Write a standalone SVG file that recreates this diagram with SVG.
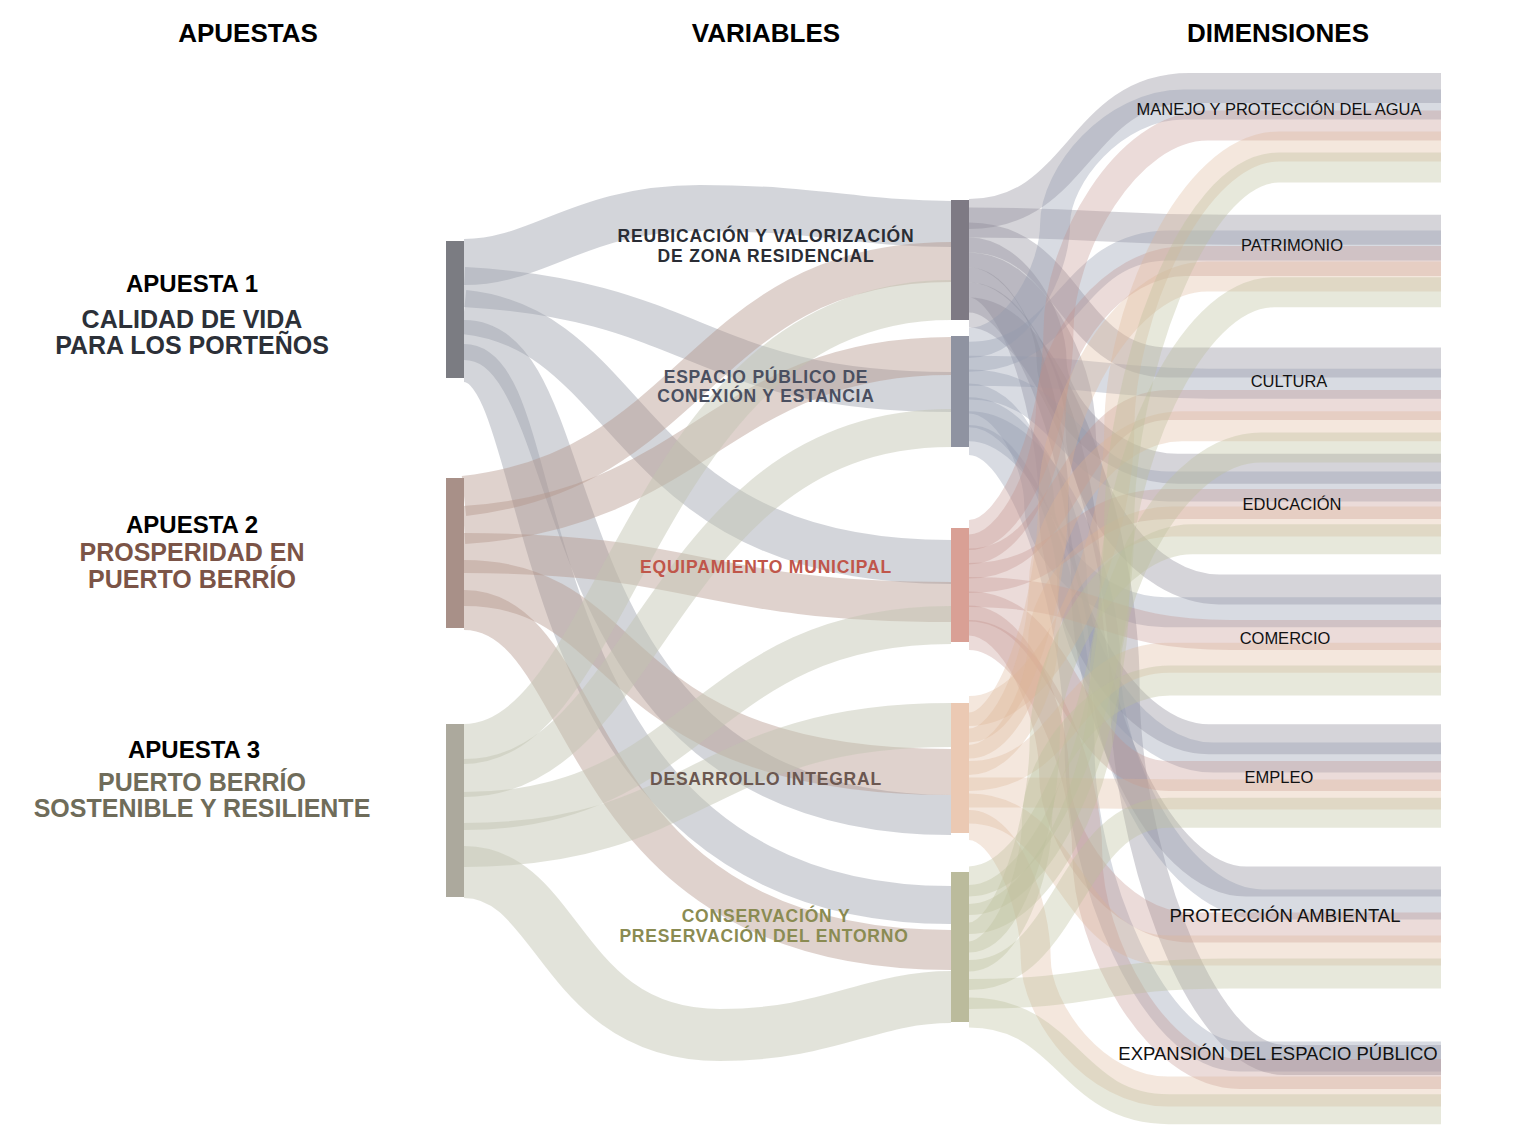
<svg xmlns="http://www.w3.org/2000/svg" width="1532" height="1137" viewBox="0 0 1532 1137">
<defs>
<style>
.f{fill:none;stroke-linecap:butt}
.a1{stroke:#9ea1ac;stroke-opacity:.45}
.a2{stroke:#b39488;stroke-opacity:.42}
.a3{stroke:#c3c5b2;stroke-opacity:.48}
.v0{stroke:#8b8797;stroke-opacity:.36;stroke-width:30}
.v1{stroke:#939bb0;stroke-opacity:.36;stroke-width:30}
.v2{stroke:#c08f8a;stroke-opacity:.32;stroke-width:30}
.v3{stroke:#deb596;stroke-opacity:.32;stroke-width:30}
.v4{stroke:#bcbe9b;stroke-opacity:.36;stroke-width:30}
.hd{font-family:"Liberation Sans",Arial,sans-serif;font-weight:bold;font-size:26px;fill:#000;text-anchor:middle}
.ap{font-family:"Liberation Sans",Arial,sans-serif;font-weight:bold;font-size:24px;fill:#000;text-anchor:middle}
.as{font-family:"Liberation Sans",Arial,sans-serif;font-weight:bold;font-size:25px;text-anchor:middle}
.vl{font-family:"Liberation Sans",Arial,sans-serif;font-weight:bold;font-size:17.5px;letter-spacing:0.8px;text-anchor:middle}
.dl{font-family:"Liberation Sans",Arial,sans-serif;font-size:16.5px;fill:#111;text-anchor:middle}
.dL{font-family:"Liberation Sans",Arial,sans-serif;font-size:18.5px;fill:#111;text-anchor:middle}
</style>
</defs>
<rect width="1532" height="1137" fill="#fff"/>

<g id="connectors">
<!-- Apuestas to Variables -->
<path class="f a1" stroke-width="46" d="M464,262 C540,262 580,208 700,208 C820,208 860,224 951,224"/>
<path class="f a1" stroke-width="40" d="M464,287 C700,300 700,392 951,392"/>
<path class="f a1" stroke-width="44" d="M464,312 C640,330 620,562 951,562"/>
<path class="f a1" stroke-width="40" d="M464,340 C600,340 520,815 951,815"/>
<path class="f a1" stroke-width="38" d="M464,363 C560,363 500,905 951,905"/>

<path class="f a2" stroke-width="40" d="M464,496 C700,470 700,262 951,262"/>
<path class="f a2" stroke-width="38" d="M464,525 C700,510 720,356 951,356"/>
<path class="f a2" stroke-width="40" d="M464,553 C700,553 700,602 951,602"/>
<path class="f a2" stroke-width="46" d="M464,583 C640,583 600,772 951,772"/>
<path class="f a2" stroke-width="40" d="M464,610 C600,610 560,950 951,950"/>

<path class="f a3" stroke-width="40" d="M464,744 C620,744 640,300 951,300"/>
<path class="f a3" stroke-width="38" d="M464,778 C650,778 660,428 951,428"/>
<path class="f a3" stroke-width="38" d="M464,811 C700,811 700,625 951,625"/>
<path class="f a3" stroke-width="44" d="M464,845 C700,845 700,725 951,725"/>
<path class="f a3" stroke-width="52" d="M464,872 C560,872 560,1035 720,1035 C830,1035 870,997 951,997"/>

<!-- Variables to Dimensiones -->
<path class="f v0" stroke-width="38" d="M969,214 C1079,214 1079,88 1189,88 L1441,88"/>
<path class="f v0" d="M969,222.5 C1100,222.5 1100,229.8 1230,229.8 L1441,229.8"/>
<path class="f v0" d="M969,237.5 C1069,237.5 1069,362.6 1169,362.6 L1441,362.6"/>
<path class="f v0" d="M969,252.5 C1014.4,252.5 1051.6,317.4 1051.6,360.7 C1051.6,403.9 1108.3,468.8 1177.6,468.8 L1441,468.8"/>
<path class="f v0" d="M969,267.5 C1030.3,267.5 1080.5,364.1 1080.5,428.5 C1080.5,492.8 1142.9,589.4 1219.1,589.4 L1441,589.4"/>
<path class="f v0" d="M969,282.5 C1015.8,282.5 1054.1,419.5 1054.1,510.9 C1054.1,602.2 1123.8,739.2 1208.9,739.2 L1441,739.2"/>
<path class="f v0" stroke-width="36" d="M969,297.5 C1033.6,297.5 1086.4,472.7 1086.4,589.5 C1086.4,706.3 1158.4,881.5 1246.4,881.5 L1441,881.5"/>
<path class="f v0" stroke-width="34" d="M969,312.5 C1054.6,312.5 1124.6,536.8 1124.6,686.3 C1124.6,835.8 1196.6,1060 1284.6,1060 L1441,1060"/>

<path class="f v1" d="M969,342.9 C1016.4,342.9 1055.1,271.4 1055.1,223.7 C1055.1,176 1113,104.5 1183.7,104.5 L1441,104.5"/>
<path class="f v1" d="M969,356.8 C1069,356.8 1069,245.4 1169,245.4 L1441,245.4"/>
<path class="f v1" d="M969,370.7 C1100,370.7 1100,383.8 1230,383.8 L1441,383.8"/>
<path class="f v1" d="M969,384.6 C1069,384.6 1069,486.4 1169,486.4 L1441,486.4"/>
<path class="f v1" stroke-width="34" d="M969,398.4 C1007.6,398.4 1039.2,462.5 1039.2,505.3 C1039.2,548.1 1095.8,612.2 1164.9,612.2 L1441,612.2"/>
<path class="f v1" d="M969,412.3 C1025.8,412.3 1072.2,515.9 1072.2,585 C1072.2,654.1 1135.8,757.6 1213.6,757.6 L1441,757.6"/>
<path class="f v1" d="M969,426.2 C1044.1,426.2 1105.5,569.7 1105.5,665.4 C1105.5,761 1176.3,904.5 1262.9,904.5 L1441,904.5"/>
<path class="f v1" d="M969,440.1 C1029.8,440.1 1079.6,625 1079.6,748.3 C1079.6,871.5 1151.6,1056.4 1239.6,1056.4 L1441,1056.4"/>

<path class="f v2" d="M969,535.1 C1018.2,535.1 1058.5,412.2 1058.5,330.3 C1058.5,248.4 1125.6,125.5 1207.7,125.5 L1441,125.5"/>
<path class="f v2" d="M969,549.4 C1014.2,549.4 1051.1,462.9 1051.1,405.2 C1051.1,347.5 1111.7,261 1185.7,261 L1441,261"/>
<path class="f v2" d="M969,563.6 C1069,563.6 1069,405 1169,405 L1441,405"/>
<path class="f v2" d="M969,577.9 C1069,577.9 1069,504 1169,504 L1441,504"/>
<path class="f v2" d="M969,592.1 C1100,592.1 1100,635 1230,635 L1441,635"/>
<path class="f v2" d="M969,606.4 C1069,606.4 1069,776 1169,776 L1441,776"/>
<path class="f v2" d="M969,620.6 C1015.8,620.6 1054.1,712.7 1054.1,774.1 C1054.1,835.4 1115.7,927.5 1190.9,927.5 L1441,927.5"/>
<path class="f v2" d="M969,634.9 C1034.1,634.9 1087.3,766.6 1087.3,854.5 C1087.3,942.3 1156,1074 1240,1074 L1441,1074"/>

<path class="f v3" d="M969,711.1 C1051.7,711.1 1119.3,541.7 1119.3,428.8 C1119.3,315.9 1191.3,146.5 1279.3,146.5 L1441,146.5"/>
<path class="f v3" d="M969,727.4 C1015.3,727.4 1053.1,592.2 1053.1,502 C1053.1,411.8 1122.4,276.6 1207.2,276.6 L1441,276.6"/>
<path class="f v3" d="M969,743.6 C1010.1,743.6 1043.8,648.4 1043.8,584.9 C1043.8,521.4 1105.9,426.2 1181.9,426.2 L1441,426.2"/>
<path class="f v3" d="M969,759.9 C1009.8,759.9 1043.1,688.4 1043.1,640.8 C1043.1,593.1 1101,521.6 1171.7,521.6 L1441,521.6"/>
<path class="f v3" d="M969,776.1 C1069,776.1 1069,657.8 1169,657.8 L1441,657.8"/>
<path class="f v3" d="M969,792.4 C1100,792.4 1100,794.4 1230,794.4 L1441,794.4"/>
<path class="f v3" d="M969,808.6 C1069,808.6 1069,950.5 1169,950.5 L1441,950.5"/>
<path class="f v3" d="M969,824.9 C1005.7,824.9 1035.7,904.9 1035.7,958.3 C1035.7,1011.6 1095.1,1091.6 1167.7,1091.6 L1441,1091.6"/>

<path class="f v4" d="M969,881.4 C1051.6,881.4 1119.2,667.3 1119.2,524.5 C1119.2,381.7 1191.2,167.5 1279.2,167.5 L1441,167.5"/>
<path class="f v4" d="M969,900.1 C1048.9,900.1 1114.3,717.8 1114.3,596.2 C1114.3,474.6 1186.3,292.2 1274.3,292.2 L1441,292.2"/>
<path class="f v4" d="M969,918.9 C1043.5,918.9 1104.4,777.5 1104.4,683.2 C1104.4,588.9 1174.9,447.4 1261,447.4 L1441,447.4"/>
<path class="f v4" d="M969,937.6 C1010.6,937.6 1044.7,818.1 1044.7,738.4 C1044.7,658.7 1111.2,539.2 1192.5,539.2 L1441,539.2"/>
<path class="f v4" d="M969,956.4 C1006.5,956.4 1037.1,873.7 1037.1,818.5 C1037.1,763.3 1097,680.6 1170.2,680.6 L1441,680.6"/>
<path class="f v4" d="M969,975.1 C1069,975.1 1069,812.8 1169,812.8 L1441,812.8"/>
<path class="f v4" d="M969,993.9 C1100,993.9 1100,973.5 1230,973.5 L1441,973.5"/>
<path class="f v4" d="M969,1012.6 C1069,1012.6 1069,1109.2 1169,1109.2 L1441,1109.2"/>
</g>

<g id="headers">
<text class="hd" x="248" y="42">APUESTAS</text>
<text class="hd" x="766" y="42">VARIABLES</text>
<text class="hd" x="1278" y="42">DIMENSIONES</text>
</g>

<g id="apuesta1">
<rect x="446" y="241" width="18" height="137" fill="#7b7c82"/>
<text class="ap" x="192" y="292">APUESTA 1</text>
<text class="as" x="192" y="328" fill="#2c3038">CALIDAD DE VIDA</text>
<text class="as" x="192" y="354" fill="#2c3038">PARA LOS PORTEÑOS</text>
</g>
<g id="apuesta2">
<rect x="446" y="478" width="18" height="150" fill="#a89088"/>
<text class="ap" x="192" y="533">APUESTA 2</text>
<text class="as" x="192" y="561" fill="#7b5447">PROSPERIDAD EN</text>
<text class="as" x="192" y="588" fill="#7b5447">PUERTO BERRÍO</text>
</g>
<g id="apuesta3">
<rect x="446" y="724" width="18" height="173" fill="#aca99d"/>
<text class="ap" x="194" y="758">APUESTA 3</text>
<text class="as" x="202" y="791" fill="#6f6c5a">PUERTO BERRÍO</text>
<text class="as" x="202" y="817" fill="#6f6c5a">SOSTENIBLE Y RESILIENTE</text>
</g>

<g id="var-reubicacion">
<rect x="951" y="200" width="18" height="120" fill="#7e7a84"/>
<text class="vl" x="766" y="242" fill="#2a2d35">REUBICACIÓN Y VALORIZACIÓN</text>
<text class="vl" x="766" y="262" fill="#2a2d35">DE ZONA RESIDENCIAL</text>
</g>
<g id="var-espacio">
<rect x="951" y="336" width="18" height="111" fill="#8f93a1"/>
<text class="vl" x="766" y="383" fill="#4a4f60">ESPACIO PÚBLICO DE</text>
<text class="vl" x="766" y="402" fill="#4a4f60">CONEXIÓN Y ESTANCIA</text>
</g>
<g id="var-equipamiento">
<rect x="951" y="528" width="18" height="114" fill="#d9a095"/>
<text class="vl" x="766" y="573" fill="#c0564a">EQUIPAMIENTO MUNICIPAL</text>
</g>
<g id="var-desarrollo">
<rect x="951" y="703" width="18" height="130" fill="#ebc9b3"/>
<text class="vl" x="766" y="785" fill="#6b5750">DESARROLLO INTEGRAL</text>
</g>
<g id="var-conservacion">
<rect x="951" y="872" width="18" height="150" fill="#bbbb9c"/>
<text class="vl" x="766" y="922" fill="#8a8b52">CONSERVACIÓN Y</text>
<text class="vl" x="764" y="942" fill="#8a8b52">PRESERVACIÓN DEL ENTORNO</text>
</g>

<g id="dim-agua"><text class="dl" x="1279" y="115">MANEJO Y PROTECCIÓN DEL AGUA</text></g>
<g id="dim-patrimonio"><text class="dl" x="1292" y="251">PATRIMONIO</text></g>
<g id="dim-cultura"><text class="dl" x="1289" y="387">CULTURA</text></g>
<g id="dim-educacion"><text class="dl" x="1292" y="510">EDUCACIÓN</text></g>
<g id="dim-comercio"><text class="dl" x="1285" y="644">COMERCIO</text></g>
<g id="dim-empleo"><text class="dl" x="1279" y="783">EMPLEO</text></g>
<g id="dim-ambiental"><text class="dL" x="1285" y="922">PROTECCIÓN AMBIENTAL</text></g>
<g id="dim-expansion"><text class="dL" x="1278" y="1060">EXPANSIÓN DEL ESPACIO PÚBLICO</text></g>
</svg>
